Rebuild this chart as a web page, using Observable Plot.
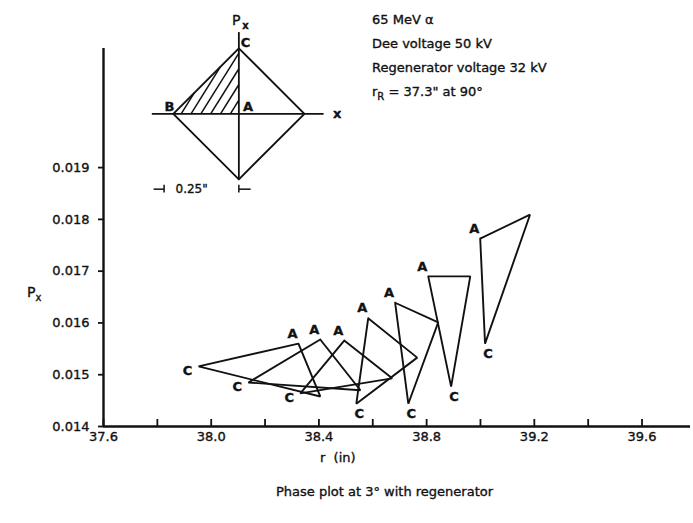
<!DOCTYPE html>
<html><head><meta charset="utf-8">
<script src="https://cdn.jsdelivr.net/npm/d3@7"></script>
<script src="https://cdn.jsdelivr.net/npm/@observablehq/plot@0.6"></script>
<style>
body{margin:0;background:#fff;font-family:"DejaVu Sans",sans-serif;color:#111}
#wrap{position:relative;width:693px;height:523px;overflow:hidden}
#main{position:absolute;left:0;top:0}
#inset{position:absolute;left:140px;top:0}
.t{position:absolute;font-size:13px;white-space:nowrap;line-height:16px;-webkit-text-stroke:0.35px #111}
.t sub{font-size:10px;vertical-align:-4px;line-height:0}
#wrap svg text{stroke:#111;stroke-width:0.35px}
</style>
</head><body>
<div id="wrap">
  <div id="main"></div>
  <div id="inset"></div>
  <div class="t" style="left:372px;top:12px">65 MeV α</div>
  <div class="t" style="left:372px;top:36px">Dee voltage 50 kV</div>
  <div class="t" style="left:372px;top:60px">Regenerator voltage 32 kV</div>
  <div class="t" style="left:372px;top:84px">r<sub>R</sub> = 37.3" at 90°</div>
  <div class="t" style="left:27px;top:284px;font-size:14px">P<sub>x</sub></div>
  <div class="t" style="left:320px;top:450px">r&nbsp;&nbsp;(in)</div>
  <div class="t" style="left:276px;top:484px">Phase plot at 3° with regenerator</div>
</div>
<script>
// ---- data ----
const triangleIds = [1, 2, 3, 4, 5, 6, 7];
const vertexA_r = [38.324, 38.405, 38.494, 38.583, 38.683, 38.806, 38.999];
const vertexA_p = [0.01560, 0.01568, 0.01566, 0.01609, 0.01639, 0.01690, 0.01763];
const vertexB_r = [38.405, 38.554, 38.672, 38.765, 38.843, 38.962, 39.184];
const vertexB_p = [0.01458, 0.01470, 0.01493, 0.01533, 0.01601, 0.01690, 0.01809];
const vertexC_r = [37.953, 38.138, 38.331, 38.539, 38.732, 38.891, 39.017];
const vertexC_p = [0.01516, 0.01485, 0.01464, 0.01444, 0.01444, 0.01477, 0.01560];

const xMinorTicks = [37.6, 37.8, 38.0, 38.2, 38.4, 38.6, 38.8, 39.0, 39.2, 39.4, 39.6];
const xLabelTicks = [37.6, 38.0, 38.4, 38.8, 39.2, 39.6];
const yTicks = [0.014, 0.015, 0.016, 0.017, 0.018, 0.019];
const xDomain = [37.6, 39.78];
const yDomain = [0.014, 0.0213];

// inset (schematic, arbitrary units; 1 = half diagonal)
const insetDiamondX = [0, 1, 0, -1, 0];
const insetDiamondY = [1, 0, -1, 0, 1];
const insetAxisX = [-1.32, 1.30];
const insetAxisY = [-1, 1.24];
const insetHatchStarts = [-0.88, -0.73, -0.58, -0.43, -0.28, -0.13];
const insetLabels = ["B", "A", "C"];
const insetLabelX = [-1.06, 0.14, 0.10];
const insetLabelY = [0.11, 0.11, 1.08];

// ---- build tables ----
const path = [];
triangleIds.forEach((id, i) => {
  const A = {r: vertexA_r[i], p: vertexA_p[i], id};
  const B = {r: vertexB_r[i], p: vertexB_p[i], id};
  const C = {r: vertexC_r[i], p: vertexC_p[i], id};
  path.push(A, B, C, A);
});
const aPts = triangleIds.map((id, i) => ({r: vertexA_r[i], p: vertexA_p[i]}));
const cPts = triangleIds.map((id, i) => ({r: vertexC_r[i], p: vertexC_p[i], i}));

const main = Plot.plot({
  width: 693, height: 460,
  marginLeft: 103, marginRight: 3, marginTop: 48, marginBottom: 34,
  x: {domain: xDomain, axis: null},
  y: {domain: yDomain, axis: null},
  style: {fontFamily: "DejaVu Sans", fontSize: "13px", color: "#111", background: "white"},
  marks: [
    Plot.ruleY([yDomain[0]], {x1: xDomain[0], x2: xDomain[1], strokeWidth: 2.4}),
    Plot.ruleX([xDomain[0]], {y1: yDomain[0], y2: yDomain[1], strokeWidth: 2.4}),
    Plot.axisX({ticks: xMinorTicks, tickSize: -7, tickFormat: () => "", strokeWidth: 1.8, label: null}),
    Plot.axisX({ticks: xLabelTicks, tickSize: 0, tickPadding: 5, tickFormat: d => d.toFixed(1), label: null, fontSize: 13}),
    Plot.axisY({ticks: yTicks, tickSize: 5, tickPadding: 9, tickFormat: d => d.toFixed(3), strokeWidth: 1.8, label: null, fontSize: 13}),
    Plot.line(path, {x: "r", y: "p", z: "id", stroke: "#111", strokeWidth: 1.9, strokeLinejoin: "miter"}),
    Plot.text(aPts, {x: "r", y: "p", text: () => "A", dx: -6, dy: -10, fontSize: 13, fontWeight: "bold", fill: "#111"}),
    Plot.text(cPts, {x: "r", y: "p", text: () => "C", fontSize: 13, fontWeight: "bold", fill: "#111",
      filter: d => d.i >= 3, dy: 10, dx: 3}),
    Plot.text(cPts, {x: "r", y: "p", text: () => "C", fontSize: 13, fontWeight: "bold", fill: "#111",
      filter: d => d.i < 3, dx: -11, dy: 4})
  ]
});
document.getElementById("main").appendChild(main);

// hatch lines clipped to triangle B(-1,0) A(0,0) C(0,1), slope k
const k = 1.6;
const hatch = insetHatchStarts.map(t => {
  const xEnd = Math.min(0, (1 + k * t) / (k - 1));
  return {x1: t, y1: 0, x2: xEnd, y2: k * (xEnd - t)};
});
const diamond = insetDiamondX.map((x, i) => ({x, y: insetDiamondY[i]}));
const lbls = insetLabels.map((s, i) => ({s, x: insetLabelX[i], y: insetLabelY[i]}));

const inset = Plot.plot({
  width: 200, height: 200, margin: 0,
  x: {domain: [-1.5, 1.55], axis: null},
  y: {domain: [-1.323, 1.73], axis: null},
  style: {fontFamily: "DejaVu Sans", fontSize: "13px", color: "#111", background: "transparent", overflow: "visible"},
  marks: [
    Plot.ruleY([0], {x1: insetAxisX[0], x2: insetAxisX[1], strokeWidth: 1.8}),
    Plot.ruleX([0], {y1: insetAxisY[0], y2: insetAxisY[1], strokeWidth: 1.8}),
    Plot.line(diamond, {x: "x", y: "y", stroke: "#111", strokeWidth: 1.9}),
    Plot.link(hatch, {x1: "x1", y1: "y1", x2: "x2", y2: "y2", stroke: "#111", strokeWidth: 1.5}),
    Plot.text(lbls, {x: "x", y: "y", text: "s", fontSize: 13, fontWeight: "bold", fill: "#111"}),
    Plot.text(["P"], {x: -0.04, y: 1.42, text: d => d, fontSize: 14, fill: "#111"}),
    Plot.text(["x"], {x: 0.10, y: 1.35, text: d => d, fontSize: 10, fontWeight: "bold", fill: "#111"}),
    Plot.text(["x"], {x: 1.50, y: 0.0, text: d => d, fontSize: 13, fontWeight: "bold", fill: "#111"}),
    Plot.text(['0.25"'], {x: -0.72, y: -1.15, text: d => d, fontSize: 12, fill: "#111"}),
    Plot.link([{a: -1.30, b: -1.15}], {x1: "a", x2: d => -1.14, y1: "b", y2: "b", stroke: "#111", strokeWidth: 1.5}),
    Plot.ruleX([-1.14], {y1: -1.09, y2: -1.21, strokeWidth: 1.5}),
    Plot.ruleX([0], {y1: -1.09, y2: -1.21, strokeWidth: 1.5}),
    Plot.link([{a: 0, b: -1.15}], {x1: "a", x2: d => 0.18, y1: "b", y2: "b", stroke: "#111", strokeWidth: 1.5})
  ]
});
document.getElementById("inset").appendChild(inset);
</script>
</body></html>
